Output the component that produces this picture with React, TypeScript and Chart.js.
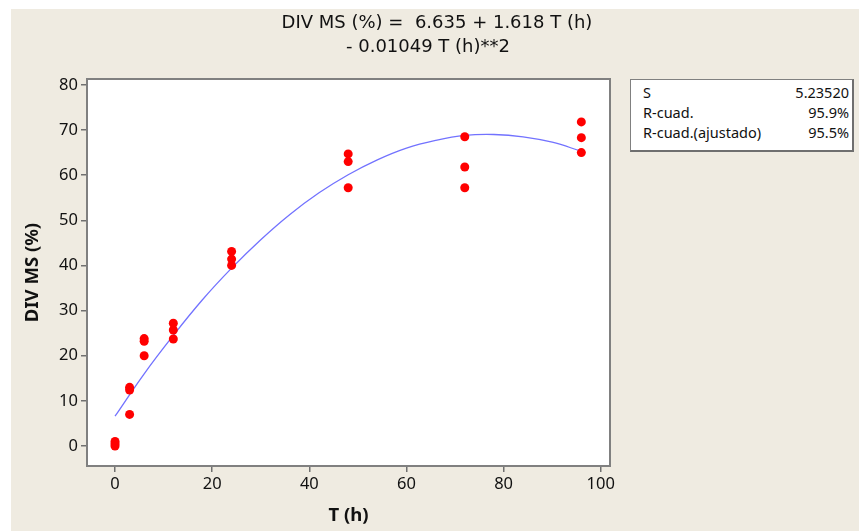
import React, { useEffect, useRef } from "react";
import { Chart, registerables } from "chart.js";

Chart.register(...registerables);

// Observed data: time (h) and DIV MS (%)
const timeH = [0, 0, 0, 3, 3, 3, 6, 6, 6, 12, 12, 12, 24, 24, 24, 48, 48, 48, 72, 72, 72, 96, 96, 96];
const divMs = [0, 0.5, 1, 7, 12.4, 13, 20, 23.2, 23.8, 23.7, 25.7, 27.2, 40, 41.4, 43.1, 57.2, 63, 64.7, 57.2, 61.8, 68.5, 65, 68.3, 71.8];

// Fitted curve
const fitT = [0, 6, 12, 18, 24, 30, 36, 42, 48, 54, 60, 66, 72, 78, 84, 90, 96];
const fitY = [6.6, 16.0, 24.5, 32.4, 39.4, 45.7, 51.3, 56.1, 60.1, 63.4, 66.0, 67.7, 68.8, 69.0, 68.5, 67.3, 65.3];

const xTickValues = [0, 20, 40, 60, 80, 100];
const yTickValues = [0, 10, 20, 30, 40, 50, 60, 70, 80];

const titleLine1 = "DIV MS (%) =  6.635 + 1.618 T (h)";
const titleLine2 = "- 0.01049 T (h)**2";
const statLabels = ["S", "R-cuad.", "R-cuad.(ajustado)"];
const statValues = ["5.23520", "95.9%", "95.5%"];

const FONT = "'Noto Sans', 'DejaVu Sans', sans-serif";
const TITLE_FONT = "'DejaVu Sans', 'Noto Sans', sans-serif";

export default function App() {
  const canvasRef = useRef<HTMLCanvasElement | null>(null);

  useEffect(() => {
    const canvas = canvasRef.current;
    if (!canvas) return;

    const framePlugin = {
      id: "frame",
      beforeDatasetsDraw(chart: any) {
        const { ctx, chartArea } = chart;
        ctx.save();
        ctx.fillStyle = "#ffffff";
        ctx.fillRect(chartArea.left, chartArea.top, chartArea.right - chartArea.left, chartArea.bottom - chartArea.top);
        ctx.restore();
      },
      afterDraw(chart: any) {
        const { ctx, chartArea } = chart;
        ctx.save();
        ctx.strokeStyle = "#808080";
        ctx.lineWidth = 2;
        ctx.strokeRect(chartArea.left, chartArea.top, chartArea.right - chartArea.left, chartArea.bottom - chartArea.top);
        ctx.restore();
      },
    };

    const chart = new Chart(canvas, {
      type: "scatter",
      data: {
        datasets: [
          {
            label: "obs",
            data: timeH.map((t, i) => ({ x: t, y: divMs[i] })),
            backgroundColor: "#ff0000",
            borderWidth: 0,
            pointRadius: 4.5,
            order: 0,
          },
          {
            label: "fit",
            data: fitT.map((t, i) => ({ x: t, y: fitY[i] })),
            showLine: true,
            borderColor: "#7272ff",
            borderWidth: 1.3,
            pointRadius: 0,
            tension: 0.4,
            order: 1,
          } as any,
        ],
      },
      options: {
        responsive: false,
        animation: false,
        devicePixelRatio: 1,
        layout: { padding: { top: 79, right: 249, left: 0, bottom: 0 } },
        plugins: { legend: { display: false }, tooltip: { enabled: false } },
        scales: {
          x: {
            type: "linear",
            min: -5.77,
            max: 101.9,
            afterFit: (s: any) => {
              s.height = 65;
            },
            afterBuildTicks: (s: any) => {
              s.ticks = xTickValues.map((v) => ({ value: v }));
            },
            grid: { drawOnChartArea: false, drawTicks: true, tickLength: 6, color: "#707070", lineWidth: 1.5 },
            border: { display: false },
            ticks: { color: "#111111", font: { family: FONT, size: 16.5 }, padding: 2, maxRotation: 0 },
            title: {
              display: true,
              text: "T (h)",
              color: "#111111",
              font: { family: FONT, size: 18.5, weight: "bold" },
              padding: { top: 0, bottom: 4 },
            },
          },
          y: {
            type: "linear",
            min: -4.43,
            max: 81.3,
            afterFit: (s: any) => {
              s.width = 87;
            },
            afterBuildTicks: (s: any) => {
              s.ticks = yTickValues.map((v) => ({ value: v }));
            },
            grid: { drawOnChartArea: false, drawTicks: true, tickLength: 6, color: "#707070", lineWidth: 1.5 },
            border: { display: false },
            ticks: { color: "#111111", font: { family: FONT, size: 16.5 }, padding: 3 },
            title: {
              display: true,
              text: "DIV MS (%)",
              color: "#111111",
              font: { family: FONT, size: 18.5, weight: "bold" },
              padding: { top: 22, bottom: 0 },
            },
          },
        },
      },
      plugins: [framePlugin],
    });

    return () => chart.destroy();
  }, []);

  const titleStyle: React.CSSProperties = {
    position: "absolute",
    width: 440,
    textAlign: "center",
    whiteSpace: "pre",
    fontFamily: TITLE_FONT,
    fontSize: 18,
    lineHeight: "24px",
    color: "#111111",
  };

  return (
    <div style={{ position: "fixed", left: 0, top: 0, width: 859, height: 531, background: "#ffffff", overflow: "hidden" }}>
      <div style={{ position: "absolute", left: 11, top: 9, right: 0, bottom: 0, background: "#efebe1" }} />
      <canvas ref={canvasRef} width={859} height={531} style={{ position: "absolute", left: 0, top: 0, display: "block" }} />
      <div style={{ ...titleStyle, left: 217, top: 10 }}>{titleLine1}</div>
      <div style={{ ...titleStyle, left: 208, top: 34 }}>{titleLine2}</div>
      <div
        style={{
          position: "absolute",
          left: 630,
          top: 79,
          width: 221,
          height: 70,
          background: "#ffffff",
          borderTop: "1px solid #808080",
          borderLeft: "1px solid #808080",
          borderRight: "2px solid #6f6f6f",
          borderBottom: "2px solid #6f6f6f",
          fontFamily: FONT,
          fontSize: 14.5,
          color: "#111111",
        }}
      >
        {statLabels.map((lab, i) => (
          <div
            key={lab}
            style={{ position: "absolute", left: 12, right: 3, top: 2 + i * 20, height: 20, lineHeight: "20px", display: "flex", justifyContent: "space-between" }}
          >
            <span>{lab}</span>
            <span>{statValues[i]}</span>
          </div>
        ))}
      </div>
    </div>
  );
}
